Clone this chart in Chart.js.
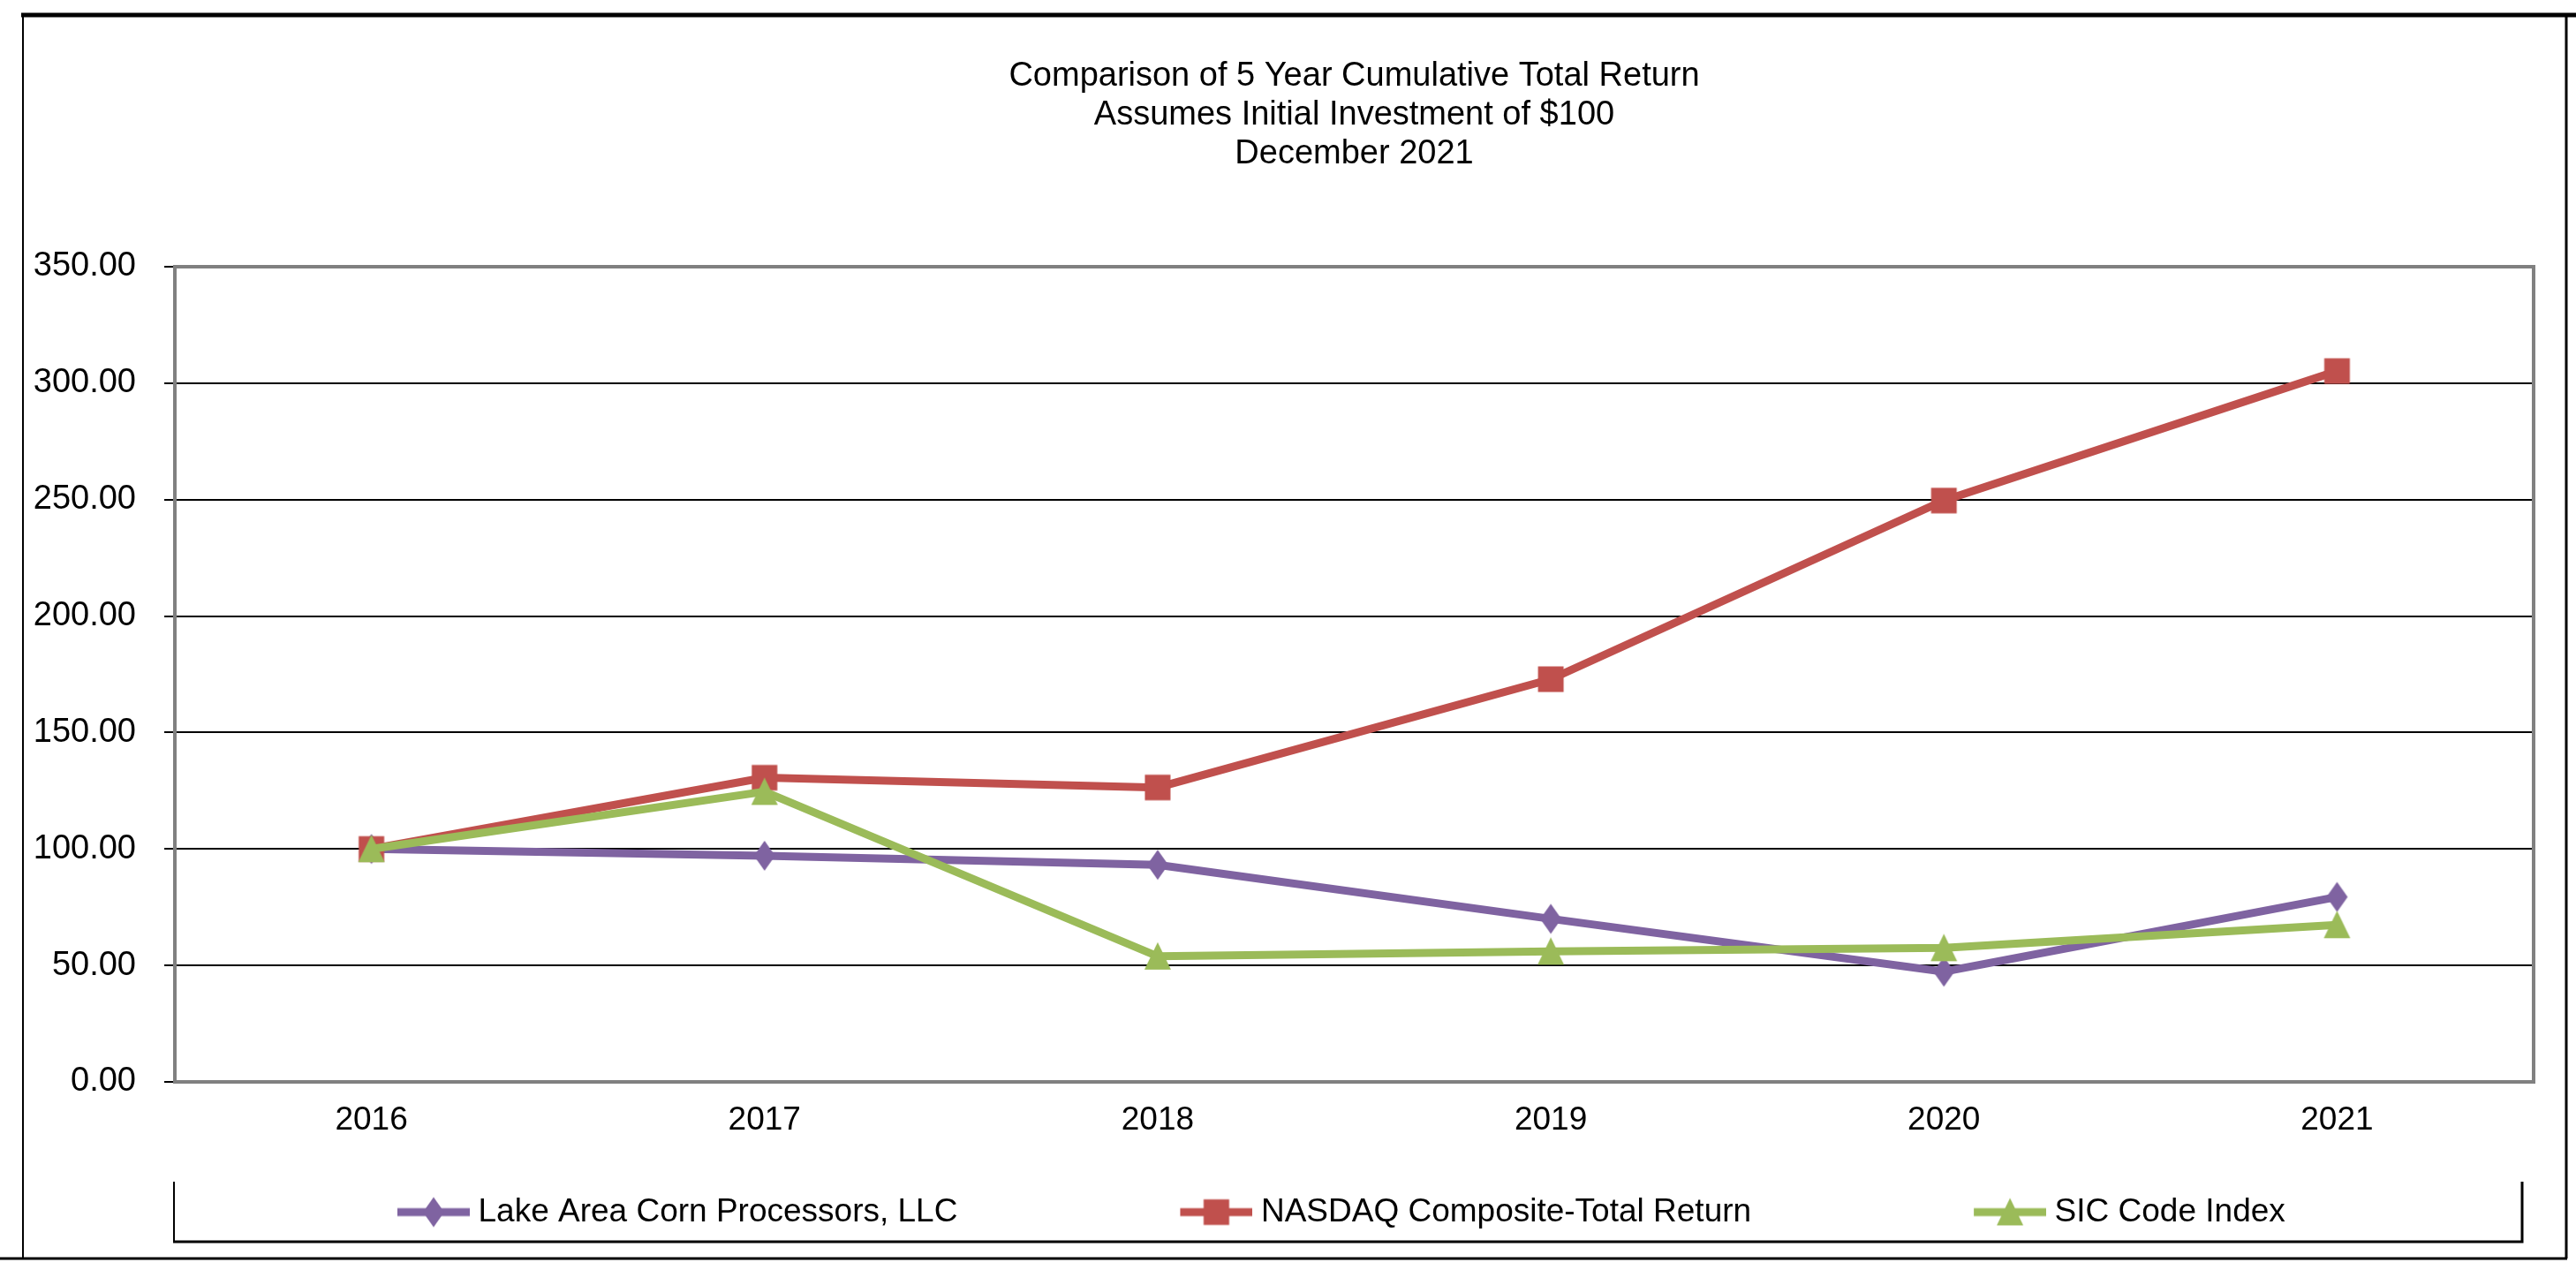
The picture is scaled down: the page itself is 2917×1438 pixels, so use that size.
<!DOCTYPE html>
<html>
<head>
<meta charset="utf-8">
<script src="https://cdn.jsdelivr.net/npm/chart.js@4"></script>
<style>
  html, body { margin: 0; padding: 0; background: #ffffff; }
  canvas { display: block; }
</style>
</head>
<body>
<canvas id="c" width="2917" height="1438"></canvas>
<script>
// ---- data ----
const categories = ['2016', '2017', '2018', '2019', '2020', '2021'];
const lakeArea = [100, 97.1, 93.2, 70.0, 47.3, 79.4];
const nasdaq = [100, 130.6, 126.4, 172.9, 249.6, 305.2];
const sicIndex = [100, 124.6, 53.9, 56.0, 57.5, 67.4];
const seriesNames = ['Lake Area Corn Processors, LLC', 'NASDAQ Composite-Total Return', 'SIC Code Index'];
const titleLines = ['Comparison of 5 Year Cumulative Total Return', 'Assumes Initial Investment of $100', 'December 2021'];
const yMin = 0, yMax = 350, yStep = 50;

// ---- styles ----
const PURPLE = '#7F63A1', RED = '#C0504D', GREEN = '#9BBB59';
const FONT = "'Liberation Sans', Arial, sans-serif";

function drawMarker(ctx, shape, cx, cy, color) {
  ctx.fillStyle = color;
  ctx.beginPath();
  if (shape === 'diamond') {
    ctx.moveTo(cx, cy - 17); ctx.lineTo(cx + 12, cy); ctx.lineTo(cx, cy + 17); ctx.lineTo(cx - 12, cy);
  } else if (shape === 'square') {
    ctx.rect(cx - 14.5, cy - 14.5, 29, 29);
  } else {
    ctx.moveTo(cx, cy - 16); ctx.lineTo(cx + 15, cy + 15); ctx.lineTo(cx - 15, cy + 15);
  }
  ctx.closePath();
  ctx.fill();
}
function markerImage(shape, color) {
  const c = document.createElement('canvas');
  c.width = 40; c.height = 40;
  drawMarker(c.getContext('2d'), shape, 20, 20, color);
  return c;
}
const LEG_BOX = 315;
function legendImage(shape, color) {
  const c = document.createElement('canvas');
  c.width = LEG_BOX + 18; c.height = 40;
  const ctx = c.getContext('2d');
  ctx.fillStyle = color;
  ctx.fillRect(c.width - 82, 15.5, 82, 9);
  drawMarker(ctx, shape, c.width - 41, 20, color);
  return c;
}
const shapes = ['diamond', 'square', 'triangle'];
const colors = [PURPLE, RED, GREEN];
const markers = shapes.map((s, i) => markerImage(s, colors[i]));
const legendMarks = shapes.map((s, i) => legendImage(s, colors[i]));

const decorations = {
  id: 'decorations',
  beforeDatasetsDraw(chart) {
    const {ctx, chartArea: a} = chart;
    ctx.save();
    ctx.strokeStyle = '#808080';
    ctx.lineWidth = 4;
    ctx.strokeRect(a.left, a.top, a.right - a.left, a.bottom - a.top);
    ctx.restore();
  },
  afterDraw(chart) {
    const {ctx, chartArea: a, legend: lg} = chart;
    ctx.save();
    ctx.strokeStyle = '#000000';
    // outer frame
    ctx.lineWidth = 2;
    ctx.beginPath(); ctx.moveTo(26, 17); ctx.lineTo(26, 1425); ctx.stroke();
    ctx.lineWidth = 3;
    ctx.beginPath(); ctx.moveTo(2906, 17); ctx.lineTo(2906, 1425); ctx.stroke();
    ctx.beginPath(); ctx.moveTo(0, 1425); ctx.lineTo(2907, 1425); ctx.stroke();
    ctx.lineWidth = 5;
    ctx.beginPath(); ctx.moveTo(24, 17); ctx.lineTo(2917, 17); ctx.stroke();
    // legend box (sides + bottom)
    const L = a.left - 1, R = a.right - 13, T = lg.top - 6, B = lg.top + 62;
    ctx.lineWidth = 2;
    ctx.beginPath(); ctx.moveTo(L, T); ctx.lineTo(L, B); ctx.stroke();
    ctx.lineWidth = 3;
    ctx.beginPath(); ctx.moveTo(R, T); ctx.lineTo(R, B); ctx.lineTo(L - 1, B); ctx.stroke();
    ctx.restore();
  }
};

function ds(label, data, color, marker, order) {
  return {
    label, data,
    borderColor: color, backgroundColor: color,
    borderWidth: 9, tension: 0,
    pointStyle: marker, pointRadius: 20, pointHoverRadius: 20,
    order
  };
}

new Chart(document.getElementById('c'), {
  type: 'line',
  data: {
    labels: categories,
    datasets: [
      ds(seriesNames[0], lakeArea, PURPLE, markers[0], 2),
      ds(seriesNames[1], nasdaq, RED, markers[1], 1),
      ds(seriesNames[2], sicIndex, GREEN, markers[2], 0)
    ]
  },
  options: {
    responsive: false,
    animation: false,
    layout: { padding: { top: 20, left: 0, right: 48, bottom: 37 } },
    plugins: {
      tooltip: { enabled: false },
      title: {
        display: true,
        fullSize: false,
        text: titleLines,
        color: '#000',
        font: { family: FONT, size: 38, weight: 'normal', lineHeight: '44px' },
        padding: { top: 45, bottom: 105 }
      },
      legend: {
        display: true,
        position: 'bottom',
        align: 'start',
        fullSize: false,
        labels: {
          usePointStyle: true,
          pointStyleWidth: LEG_BOX,
          padding: 10,
          color: '#000',
          font: { family: FONT, size: 37 },
          sort: (a, b) => a.datasetIndex - b.datasetIndex,
          generateLabels(chart) {
            const items = Chart.defaults.plugins.legend.labels.generateLabels(chart);
            items.forEach(it => { it.pointStyle = legendMarks[it.datasetIndex]; });
            return items;
          }
        }
      }
    },
    scales: {
      x: {
        offset: true,
        grid: { display: false, drawTicks: false },
        border: { display: false },
        ticks: { color: '#000', font: { family: FONT, size: 37 }, padding: 22, maxRotation: 0 },
        afterFit(s) { s.height = 119; }
      },
      y: {
        min: yMin, max: yMax,
        grid: { color: '#000', lineWidth: 2, drawTicks: true, tickLength: 12 },
        border: { display: true, color: '#808080', width: 4 },
        ticks: {
          stepSize: yStep, color: '#000', padding: 32,
          font: { family: FONT, size: 38 },
          callback: v => Number(v).toFixed(2)
        },
        afterFit(s) { s.width = 198; }
      }
    }
  },
  plugins: [decorations]
});
</script>
</body>
</html>
